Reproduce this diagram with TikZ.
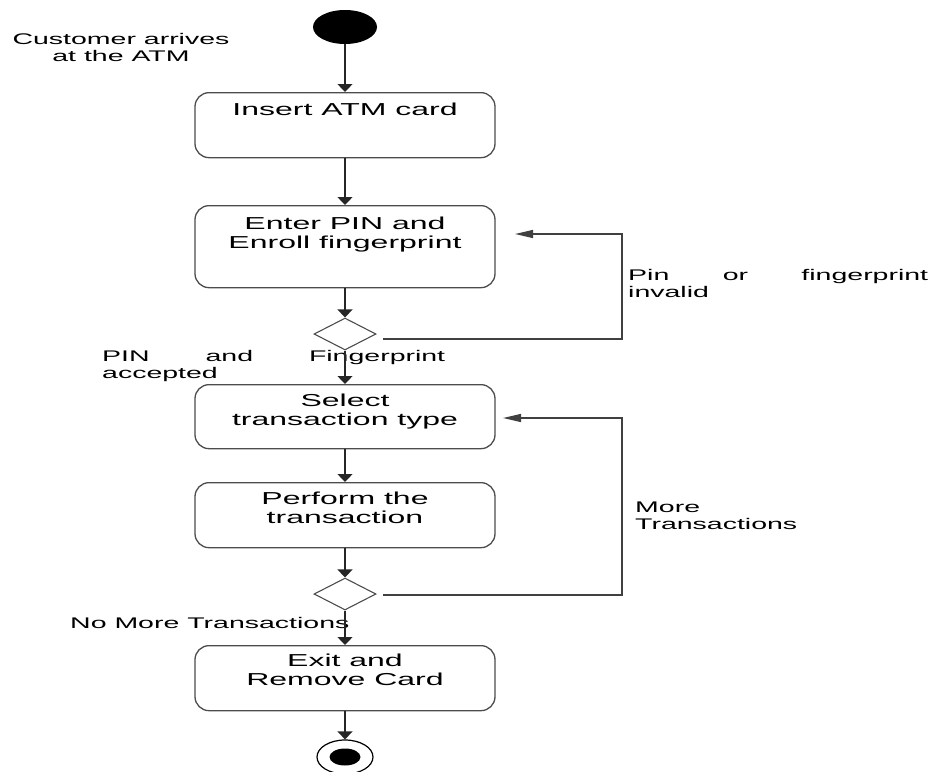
\documentclass[tikz,border=0pt]{standalone}
\usepackage{fontspec}
\setmainfont{Liberation Sans}[FakeStretch=1.85]
\usetikzlibrary{shapes.geometric,arrows.meta,calc}
\begin{document}
\begin{tikzpicture}[x=1pt,y=-1pt,
  box/.style={draw=black!70, line width=1.3pt, rounded corners=14pt, minimum width=300pt, inner sep=0pt},
  boxtext/.style={font=\fontsize{17.3}{19}\selectfont, align=center, inner sep=0pt},
  lbl/.style={font=\fontsize{15.4}{17}\selectfont, inner sep=0pt},
  flow/.style={draw=black!85, line width=1.3pt, -{Triangle[length=8pt,width=15pt]}},
  back/.style={draw=black!75, line width=1.3pt, -{Triangle[length=18pt,width=8pt]}},
  dec/.style={diamond, draw=black!70, line width=1.1pt, minimum width=62pt, minimum height=32pt, inner sep=0pt},
]
\useasboundingbox (0,0) rectangle (933,771);

% start / end
\node[ellipse, fill=black, minimum width=64pt, minimum height=34pt, inner sep=0pt] (start) at (345,27) {};
\node[ellipse, draw=black, line width=1.2pt, fill=white, minimum width=56pt, minimum height=34pt, inner sep=0pt] (end) at (345,757) {};
\node[ellipse, fill=black, minimum width=31pt, minimum height=17pt, inner sep=0pt] (endin) at (345,757) {};

% boxes
\node[box, minimum height=65pt, anchor=north] (b1) at (345,92) {};
\node[box, minimum height=82pt, anchor=north] (b2) at (345,205) {};
\node[box, minimum height=64pt, anchor=north] (b3) at (345,384) {};
\node[box, minimum height=65pt, anchor=north] (b4) at (345,482) {};
\node[box, minimum height=65pt, anchor=north] (b5) at (345,645) {};

\node[boxtext, anchor=base] (t1) at (345,115) {Insert ATM card};
\node[boxtext] (t2) at (345,234.6) {Enter PIN and\\Enroll fingerprint};
\node[boxtext] (t3) at (345,411.6) {Select\\transaction type};
\node[boxtext] (t4) at (345,507.8) {Perform the\\transaction};
\node[boxtext] (t5) at (345,670) {Exit and\\Remove Card};

% decisions
\node[dec] (d1) at (345,334) {};
\node[dec] (d2) at (345,594) {};

% labels
\node[lbl, align=center] (lstart) at (121,47) {Customer arrives\\at the ATM};
\node[lbl, anchor=west, align=left] (linv) at (628,283.9) {\makebox[300pt][s]{Pin\hfill or\hfill fingerprint}\\invalid};
\node[lbl, anchor=west, align=left] (lacc) at (102,366) {\makebox[343pt][s]{PIN\hfill and\hfill Fingerprint}\\accepted};
\node[lbl, anchor=west, align=left] (lmore) at (635,515.9) {More\\Transactions};
\node[lbl, anchor=base west] (lnomore) at (70,628) {No More Transactions};

% main flow
\draw[flow] (start.south) -- (b1.north);
\draw[flow] (b1.south) -- (b2.north);
\draw[flow] (b2.south) -- (d1.north);
\draw[flow] (d1.south) -- (b3.north);
\draw[flow] (b3.south) -- (b4.north);
\draw[flow] (b4.south) -- (d2.north);
\draw[flow] (d2.south) -- (b5.north);
\draw[flow] (b5.south) -- (end.north);

% loops
\coordinate (l1s) at (383,339);
\coordinate (l1e) at (515,234);
\draw[back] (l1s) -- (622,339) -- (622,234) -- (l1e);
\coordinate (l2s) at (383,595);
\coordinate (l2e) at (503,418);
\draw[back] (l2s) -- (622,595) -- (622,418) -- (l2e);
\end{tikzpicture}
\end{document}
